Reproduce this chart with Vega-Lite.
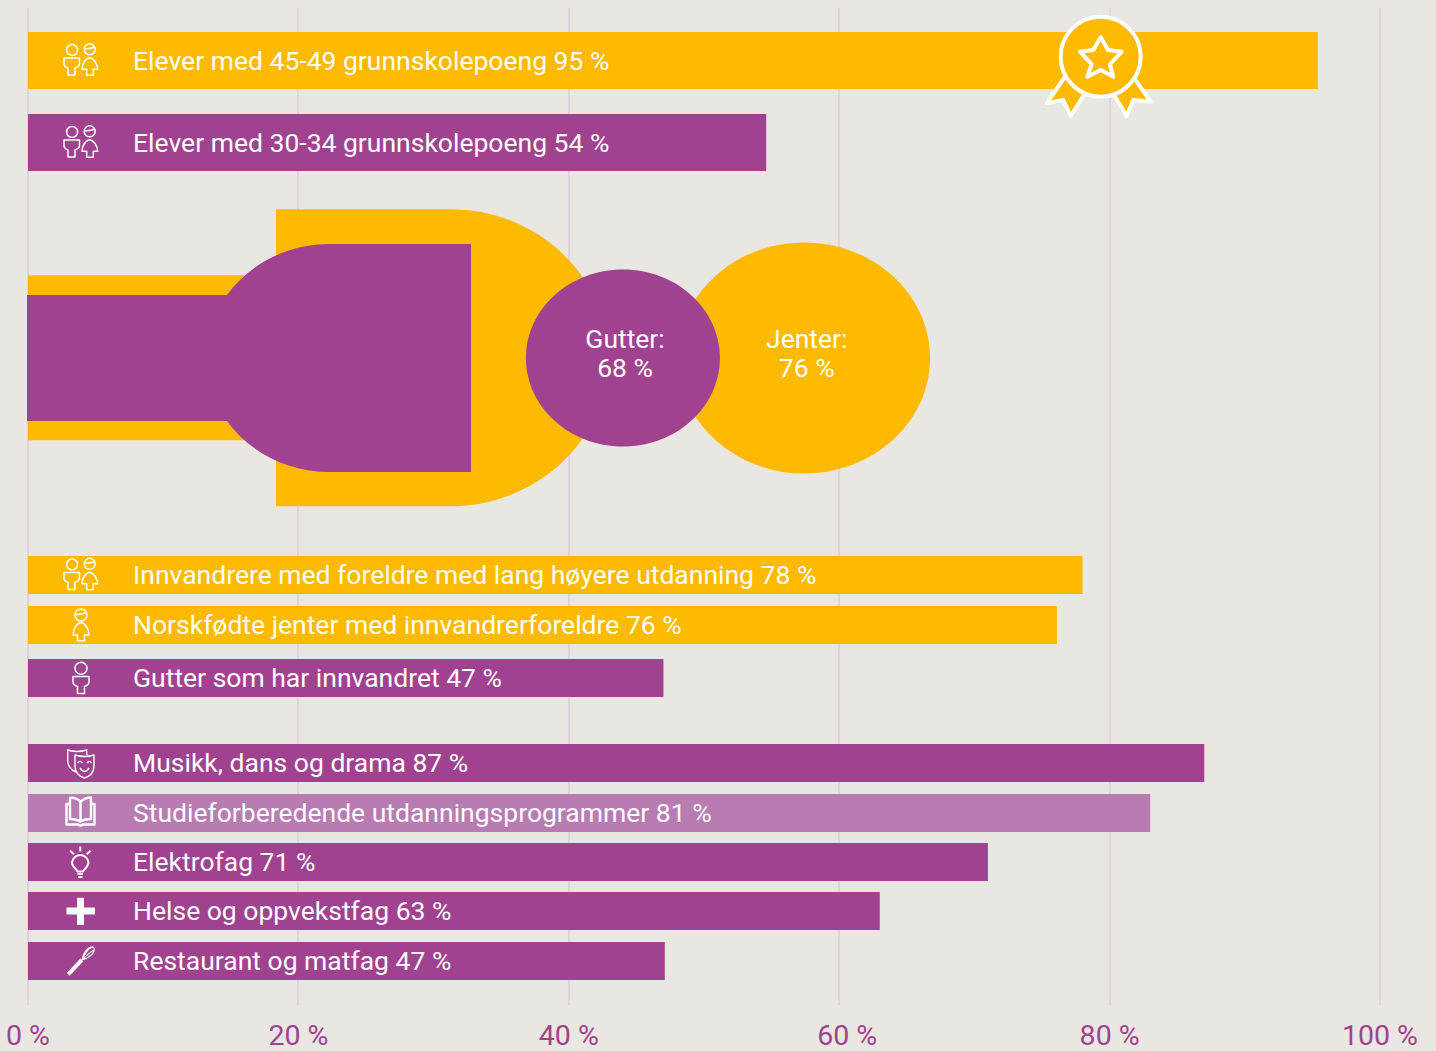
{
"$schema":"https://vega.github.io/schema/vega-lite/v6.json",
"width":1436,"height":997,
"autosize":{"type":"none"},
"padding":{"left":0,"right":0,"top":8,"bottom":46},
"background":"#EAE6E1",
"view":{"stroke":null},
"config":{"scale":{"continuousPadding":0}},
"resolve":{"scale":{"shape":"independent"}},
"datasets":{
"bars":[
{"label":"Elever med 45-49 grunnskolepoeng 95 %","value":95.4,"row":6.05,"group":"bred","tone":"gul","icon":"begge"},
{"label":"Elever med 30-34 grunnskolepoeng 54 %","value":54.6,"row":14.25,"group":"bred","tone":"lilla","icon":"begge"},
{"label":"Innvandrere med foreldre med lang høyere utdanning 78 %","value":78,"row":57.5,"group":"smal","tone":"gul","icon":"begge"},
{"label":"Norskfødte jenter med innvandrerforeldre 76 %","value":76.1,"row":62.5,"group":"smal","tone":"gul","icon":"jente"},
{"label":"Gutter som har innvandret 47 %","value":47,"row":67.8,"group":"smal","tone":"lilla","icon":"gutt"},
{"label":"Musikk, dans og drama 87 %","value":87,"row":76.3,"group":"smal","tone":"lilla","icon":"masker"},
{"label":"Studieforberedende utdanningsprogrammer 81 %","value":83,"row":81.3,"group":"smal","tone":"lys","icon":"bok"},
{"label":"Elektrofag 71 %","value":71,"row":86.2,"group":"smal","tone":"lilla","icon":"pære"},
{"label":"Helse og oppvekstfag 63 %","value":63,"row":91.1,"group":"smal","tone":"lilla","icon":"pluss"},
{"label":"Restaurant og matfag 47 %","value":47.1,"row":96.1,"group":"smal","tone":"lilla","icon":"visp"}
],
"figure":[
{"part":"jenter-flaske","value":0,"row":35.78,"tone":"gul"},
{"part":"jenter-hode","value":57.4,"row":35.8,"tone":"gul"},
{"part":"gutter-flaske","value":0,"row":35.8,"tone":"lilla"},
{"part":"gutter-hode","value":44,"row":35.8,"tone":"lilla"}
],
"figureText":[
{"label":"Gutter:","value":44.16,"row":33.9},
{"label":"68 %","value":44.16,"row":36.8},
{"label":"Jenter:","value":57.6,"row":33.9},
{"label":"76 %","value":57.6,"row":36.8}
],
"award":[{"name":"medalje","value":79.34,"row":5.67}]
},
"layer":[
{"data":{"name":"figure"},
 "mark":{"type":"point","filled":true,"opacity":1,"size":4,"strokeWidth":0},
 "encoding":{
  "x":{"field":"value","type":"quantitative","scale":{"domain":[-2.071,104.142],"nice":false,"zero":false},
   "axis":{"title":null,"values":[0,20,40,60,80,100],"labelExpr":"datum.value + ' %'","domain":false,"ticks":false,"grid":true,"translate":0,"gridColor":"#DCCBE0","gridWidth":1.5,"labelFont":"Roboto","labelFontSize":28.5,"labelColor":"#A0428F","labelPadding":17,"labelFlush":false,"labelBound":false,"labelOverlap":false,"labelAlign":"center",
    "labelOffset":{"condition":{"test":"datum.value === 60","value":8},"value":0}}},
  "y":{"field":"row","type":"quantitative","axis":null,"scale":{"domain":[0.8,100.5],"reverse":true,"nice":false,"zero":false}},
  "color":{"field":"tone","type":"nominal","legend":null,"scale":{"domain":["gul","lilla","lys"],"range":["#FDBA00","#A0428F","#B87CB3"]}},
  "shape":{"field":"part","type":"nominal","legend":null,"scale":{"domain":["jenter-flaske","jenter-hode","gutter-flaske","gutter-hode"],"range":[
   "M0,-82.5 H248 V-148.5 H422 A158,148.5 0 0 1 422,148.5 H248 V82.5 H0 Z",
   "M-126,0 A126,115.5 0 1 1 126,0 A126,115.5 0 1 1 -126,0 Z",
   "M-1,-63 H199 A123.5,114 0 0 1 302,-114 H443 V114 H302 A123.5,114 0 0 1 199,63 H-1 Z",
   "M-97,0 A97,88.5 0 1 1 97,0 A97,88.5 0 1 1 -97,0 Z"]}}
 }},
{"data":{"name":"figureText"},
 "mark":{"type":"text","font":"Roboto","fontSize":26.5,"color":"#FFFFFF","align":"center","baseline":"middle","dy":1},
 "encoding":{"x":{"field":"value","type":"quantitative"},"y":{"field":"row","type":"quantitative"},"text":{"field":"label"}}},
{"data":{"name":"bars"},
 "mark":{"type":"bar","orient":"horizontal"},
 "encoding":{
  "x":{"field":"value","type":"quantitative"},
  "y":{"field":"row","type":"quantitative"},
  "size":{"field":"group","type":"nominal","legend":null,"scale":{"type":"ordinal","domain":["bred","smal"],"range":[57,38]}},
  "color":{"field":"tone","type":"nominal"}
 }},
{"data":{"name":"bars"},
 "mark":{"type":"point","filled":false,"opacity":1,"size":4,"stroke":"#FFFFFF","strokeCap":"butt","strokeJoin":"round"},
 "encoding":{
  "x":{"datum":3.92,"type":"quantitative"},
  "y":{"field":"row","type":"quantitative"},
  "shape":{"field":"icon","type":"nominal","legend":null,"scale":{"domain":["begge","gutt","jente","masker","bok","pære","pluss","visp"],"range":[
   "M-14.4,-10.5 a5.5,5.5 0 1 0 11,0 a5.5,5.5 0 1 0 -11,0 M-17,-2.5 H-1.5 V3 Q-1.5,6 -6,7.5 V14.5 H-13 V7.5 Q-17,6 -17,3 Z M3.2,-11.2 a5.5,5.5 0 1 0 11,0 a5.5,5.5 0 1 0 -11,0 M4,-11.8 Q9,-11.5 13.5,-13.3 M8.7,-2.8 C4,-2 1,4 1,8.8 H5.7 V14.8 H12.3 V8.8 H16.7 C16.7,4 13,-2 8.7,-2.8 Z",
   "M-6,-9.7 a6,6 0 1 0 12,0 a6,6 0 1 0 -12,0 M-8,-1.5 H8 V4 Q8,7 3.5,8.5 V15.5 H-3.5 V8.5 Q-8,7 -8,4 Z",
   "M-6,-10 a6,6 0 1 0 12,0 a6,6 0 1 0 -12,0 M-5.5,-10.5 Q0,-10 5.2,-12.5 M0,-2.5 C-4,-2 -8,4 -8,10 H-3.5 V15.7 H3.5 V10 H8 C8,4 4,-2 0,-2.5 Z",
   "M-6,-8 Q3.5,-5 13,-8 V3 C13,10 8,14 3.5,15 C-1,14 -6,10 -6,3 Z M5.7,-8 V-13 Q-4,-10 -13.3,-13 V-3 C-13.3,3 -10,7 -5,9 M-3.5,0 Q-1,-3 1.5,0 M6,0 Q8.3,-3 10.8,0 M-1,5 Q3.5,12 8,5",
   "M-0.5,-11 C-4,-15 -8,-15.5 -11,-15 V6 C-8,6 -3,6.5 -0.5,9 C2,6.5 7,6 10,6 V-15.5 C7,-15.5 3,-15 -0.5,-11 V9 M-11,-9 H-14.5 V11.5 H-3 Q-0.5,13.5 2,11.5 H13.5 V-9 H10",
   "M-3.5,9.5 C-6,6 -9,4 -9,0.5 A8.3,8.3 0 0 1 7.5,0.5 C7.5,4 4.5,6 2,9.5 Z M-0.7,-15.5 V-10.5 M-11,-11.3 L-7,-7.7 M9.7,-11.3 L5.7,-7.7 M-3.5,12 H2 M-3,15 H1.5",
   "M-14.5,0 H14 M-0.5,-13.3 V14",
   "M-13.7,12.3 L-0.3,-2 M-13.2,12.8 L0.2,-1.5 M-12.7,13.3 L0.7,-1 M-12.2,13.8 L1.2,-0.5 M-11.7,14.3 L1.7,0 M1,-1 C2,-8 6,-13 10,-14 Q14,-15 13,-10 C12,-6 7,-3 1,-1 M1,-1 C4,-8 7,-12 11,-14 M1,-1 C5,-5 9,-9 13,-11"
  ]}},
  "strokeWidth":{"field":"icon","type":"nominal","legend":null,"scale":{"type":"ordinal","domain":["begge","gutt","jente","masker","bok","pære","pluss","visp"],"range":[1.5,1.5,1.5,1.4,2.4,2,7,1.1]}}
 }},
{"data":{"name":"bars"},
 "mark":{"type":"text","font":"Roboto","fontSize":26.5,"color":"#FFFFFF","align":"left","baseline":"middle","dy":1},
 "encoding":{"x":{"datum":7.77,"type":"quantitative"},"y":{"field":"row","type":"quantitative"},"text":{"field":"label"}}},
{"data":{"name":"award"},
 "mark":{"type":"point","filled":true,"opacity":1,"size":4,"fill":"#FDBA00","stroke":"#FFFFFF","strokeWidth":4,"strokeJoin":"round","strokeCap":"round",
  "shape":"M-35.7,20 L-54,46.6 L-37.4,43.3 L-30,59.3 L-15.7,36.6 M33.5,21.5 L50,45 L32.6,43.3 L26,59.3 L13,37.8 M-40,0 A40,40 0 1 1 40,0 A40,40 0 1 1 -40,0 Z M0,-19.4 L7.3,-6.7 L21,-5 L9.3,7.7 L12.6,20 L0,13.3 L-13.4,20 L-9,7.7 L-20.7,-5 L-7.3,-6.7 Z"},
 "encoding":{"x":{"field":"value","type":"quantitative"},"y":{"field":"row","type":"quantitative"}}}
]
}
